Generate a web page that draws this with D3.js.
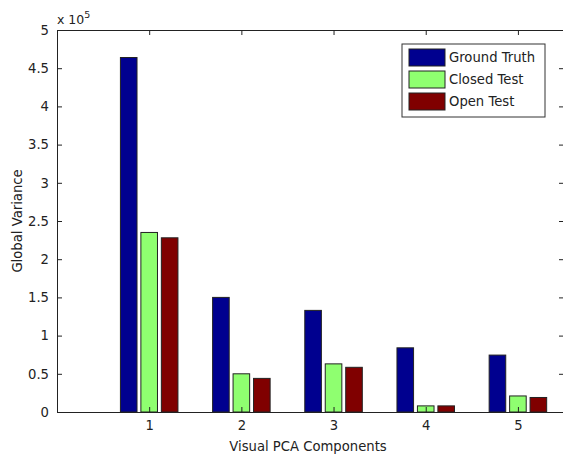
<!DOCTYPE html>
<html>
<head>
<meta charset="utf-8">
<script src="https://cdn.jsdelivr.net/npm/d3@7"></script>
<style>
  body { margin: 0; background: #fff; }
  svg { display: block; font-family: "DejaVu Sans", sans-serif; }
</style>
</head>
<body>
<div id="chart"></div>
<script>
// components on the x axis
const components = [1, 2, 3, 4, 5];
// series values (in units of 1e5)
const groundTruth = [4.64, 1.50, 1.33, 0.84, 0.745];
const closedTest = [2.35, 0.50, 0.63, 0.08, 0.21];
const openTest = [2.28, 0.44, 0.585, 0.08, 0.19];
const seriesNames = ['Ground Truth', 'Closed Test', 'Open Test'];
const seriesColors = ['#00008f', '#8fff70', '#800000'];
const yTicks = [0, 0.5, 1, 1.5, 2, 2.5, 3, 3.5, 4, 4.5, 5];

const width = 563;
const height = 457;
const margin = { top: 30, right: -1, bottom: 45, left: 57 };
const fontSize = '13.2px';

const svg = d3.select('#chart')
  .append('svg')
  .attr('width', width)
  .attr('height', height);

const x = d3.scaleLinear()
  .domain([0, 5.5])
  .range([margin.left, width - margin.right]);

const y = d3.scaleLinear()
  .domain([0, 5])
  .range([height - margin.bottom, margin.top]);

const allSeries = [groundTruth, closedTest, openTest];
const offset = 0.222;
const barW = 0.18;

// bars
allSeries.forEach((vals, s) => {
  svg.append('g')
    .selectAll('rect')
    .data(components.map((c, i) => ({ c: c, v: vals[i] })))
    .enter()
    .append('rect')
    .attr('x', d => x(d.c + (s - 1) * offset - barW / 2))
    .attr('width', d => x(barW) - x(0))
    .attr('y', d => y(d.v))
    .attr('height', d => y(0) - y(d.v))
    .attr('fill', seriesColors[s])
    .attr('stroke', '#222')
    .attr('stroke-width', 1);
});

// axes box
const axisColor = '#222';
const xAxisB = d3.axisBottom(x).tickValues(components).tickSizeInner(-5).tickSizeOuter(0).tickPadding(9)
  .tickFormat(d3.format('d'));
const xAxisT = d3.axisTop(x).tickValues(components).tickSizeInner(-5).tickSizeOuter(0).tickFormat('');
const yAxisL = d3.axisLeft(y).tickValues(yTicks).tickSizeInner(-5).tickSizeOuter(0).tickPadding(8)
  .tickFormat(d => d3.format('')(d));
const yAxisR = d3.axisRight(y).tickValues(yTicks).tickSizeInner(-5).tickSizeOuter(0).tickFormat('');

const gxb = svg.append('g').attr('transform', `translate(0,${y(0)})`).call(xAxisB);
const gxt = svg.append('g').attr('transform', `translate(0,${y(5)})`).call(xAxisT);
const gyl = svg.append('g').attr('transform', `translate(${x(0)},0)`).call(yAxisL);
const gyr = svg.append('g').attr('transform', `translate(${x(5.5)},0)`).call(yAxisR);

[gxb, gxt, gyl, gyr].forEach(g => {
  g.select('.domain').attr('stroke', axisColor);
  g.selectAll('.tick line').attr('stroke', axisColor);
  g.selectAll('.tick text')
    .attr('fill', '#222')
    .style('font-size', fontSize)
    .style('font-family', '"DejaVu Sans", sans-serif');
});

// exponent label
const expo = svg.append('text')
  .attr('x', 57)
  .attr('y', 24)
  .attr('fill', '#222')
  .style('font-size', '12.5px');
expo.append('tspan').text('x 10');
expo.append('tspan').attr('dy', -6).style('font-size', '9.5px').text('5');

// axis titles
svg.append('text')
  .attr('x', 308)
  .attr('y', 451)
  .attr('text-anchor', 'middle')
  .attr('fill', '#222')
  .style('font-size', fontSize)
  .text('Visual PCA Components');

svg.append('text')
  .attr('transform', `translate(22,${y(2.5)}) rotate(-90)`)
  .attr('text-anchor', 'middle')
  .attr('fill', '#222')
  .style('font-size', fontSize)
  .text('Global Variance');

// legend
const legend = svg.append('g')
  .attr('transform', 'translate(402,44)');

legend.append('rect')
  .attr('width', 143)
  .attr('height', 73)
  .attr('fill', '#fff')
  .attr('stroke', '#333');

const items = legend.selectAll('.item')
  .data(seriesNames)
  .enter().append('g')
  .attr('class', 'item')
  .attr('transform', (d, i) => `translate(7,${5 + i * 22})`);

items.append('rect')
  .attr('width', 36)
  .attr('height', 17)
  .attr('fill', (d, i) => seriesColors[i])
  .attr('stroke', '#222');

items.append('text')
  .attr('x', 40)
  .attr('y', 13)
  .attr('fill', '#222')
  .style('font-size', fontSize)
  .text(d => d);
</script>
</body>
</html>
